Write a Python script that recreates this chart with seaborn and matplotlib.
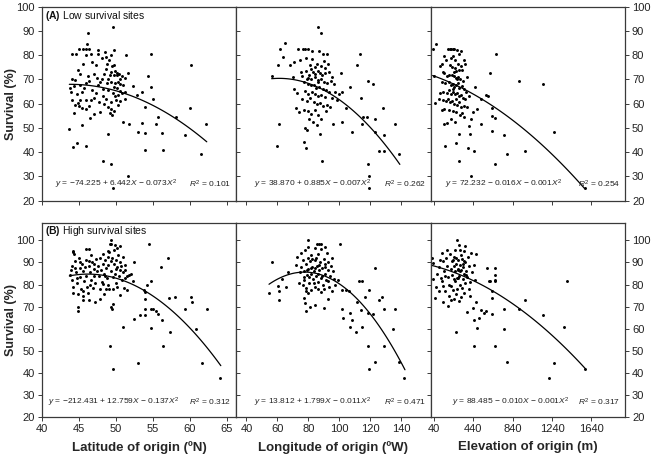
import numpy as np
import seaborn as sns
import matplotlib.pyplot as plt

# ---------------- values ----------------
# (A) low survival sites
lat_a = [43.6, 44.2, 44.7, 45.9, 45.4, 46.2, 48.2, 49.0, 49.3, 49.6, 49.6, 51.0, 51.6, 51.8, 51.4, 51.6,
         53.0, 53.6, 53.9, 53.9, 53.9, 54.7, 54.3, 54.8, 55.0, 55.4, 55.7, 56.4, 56.2, 58.1, 59.3, 60.0,
         60.1, 61.5, 62.2, 52.3, 52.8, 53.5,
         43.9, 43.8, 44.1, 44.3, 44.5, 44.0, 44.9, 45.2, 45.5, 44.6, 44.1, 45.0, 45.5, 45.9, 46.3, 46.1,
         46.6, 46.0, 46.8, 47.3, 47.0, 47.5, 45.4, 45.7, 46.0, 45.0, 45.4, 46.0, 46.4, 46.7, 47.1, 47.0,
         46.5, 44.3, 44.9, 44.7, 45.2, 45.9, 46.3, 45.1, 46.8, 47.3, 47.7, 44.4, 46.2, 47.6,
         47.6, 47.6, 48.1, 48.5, 48.7, 49.1, 49.5, 49.8, 48.7, 49.3, 49.9, 50.1, 48.4, 49.2, 49.7, 50.1,
         50.4, 50.8, 47.9, 48.8, 49.4, 49.9, 50.3, 50.6, 51.0, 48.3, 49.0, 49.7, 50.1, 50.5, 49.6, 49.9,
         50.3, 50.8, 51.2, 48.6, 49.4, 50.0, 48.9, 49.4, 49.8, 49.2, 49.5, 48.3, 48.1, 50.6, 51.2, 50.3,
         48.8, 49.4, 49.8, 48.4, 47.9, 49.0, 50.5, 51.3]
surv_lat_a = [49.4, 42.0, 43.9, 42.5, 51.2, 89.2, 36.2, 47.4, 35.1, 91.5, 25.2, 52.5, 30.2, 51.6, 79.9, 72.6,
              48.3, 52.1, 48.0, 40.9, 58.5, 80.3, 71.5, 66.9, 61.8, 51.6, 54.3, 40.9, 48.0, 54.7, 47.2, 58.3,
              76.1, 39.4, 51.6, 67.2, 63.5, 64.8,
              64.8, 66.6, 61.4, 67.2, 69.9, 70.2, 73.7, 72.2, 76.5, 80.3, 80.4, 82.5, 82.5, 82.5, 82.5, 84.7,
              80.3, 80.1, 77.0, 75.8, 72.2, 70.4, 64.8, 66.6, 61.3, 58.9, 58.2, 58.0, 58.9, 61.5, 62.4, 55.9,
              53.9, 56.0, 60.3, 63.9, 61.5, 68.5, 69.5, 67.8, 65.6, 64.4, 60.5, 59.5, 71.4, 67.5,
              82.0, 80.5, 79.0, 81.2, 79.2, 77.8, 75.3, 75.9, 74.2, 73.1, 73.3, 72.6, 72.1, 71.8, 71.6, 71.6,
              72.1, 71.2, 69.0, 68.4, 68.9, 68.4, 68.9, 68.0, 67.6, 66.0, 65.5, 66.7, 66.3, 65.4, 64.4, 63.0,
              63.6, 64.2, 64.8, 61.8, 60.8, 61.4, 58.8, 58.0, 57.0, 56.0, 55.4, 63.3, 70.2, 61.2, 62.0, 59.5,
              76.5, 80.0, 82.0, 60.0, 56.5, 70.3, 70.0, 70.5]

lon_a = [86.5, 88.4, 65.2, 61.5, 63.4, 60.4, 56.3, 113.5, 111.2, 101.0, 118.3, 121.5, 113.8, 106.9, 102.0,
         104.5, 98.5, 95.7, 102.0, 108.2, 115.0, 117.8, 123.0, 128.0, 114.4, 123.0, 128.6, 125.8, 128.6,
         135.9, 138.5, 118.3, 119.4, 119.0, 61.3, 60.0, 77.6, 78.9, 77.5, 78.5, 87.5, 88.6, 72.0, 97.0, 99.5,
         73.5, 76.5, 78.0, 79.5, 82.5, 87.0, 89.5, 92.0, 68.0, 71.0, 74.5, 78.8, 82.5, 85.5, 88.0, 90.5,
         75.5, 78.5, 80.5, 81.5, 83.0, 84.5, 86.0, 87.5, 89.0, 91.0, 93.5, 80.0, 82.0, 84.0, 86.5, 88.5,
         90.0, 92.0, 94.5, 77.0, 79.5, 81.5, 83.5, 85.0, 87.0, 89.5, 91.5, 93.5, 78.0, 80.0, 82.5, 84.5,
         86.5, 88.5, 90.5, 95.5, 76.0, 79.0, 81.0, 83.5, 85.5, 87.5, 89.5, 92.0, 74.0, 77.0, 80.0, 82.0,
         84.5, 86.5, 88.0, 91.5, 94.0, 80.5, 83.0, 85.5, 86.0, 84.0, 81.0, 79.0, 76.0, 70.5, 73.0, 90.0,
         93.0, 95.0, 96.5, 70.0]
surv_lon_a = [91.5, 89.2, 84.8, 82.5, 79.2, 76.1, 71.4, 80.3, 75.8, 72.6, 69.2, 68.1, 62.5, 66.9, 64.8,
              58.4, 61.7, 51.8, 52.5, 48.3, 54.7, 54.7, 53.8, 58.1, 51.6, 48.2, 47.2, 40.6, 40.6,
              51.6, 39.3, 35.0, 30.2, 25.2, 51.6, 42.5, 50.1, 49.1, 44.1, 41.9, 47.5, 36.5, 58.4, 65.0, 63.8,
              82.5, 82.5, 82.5, 82.5, 81.8, 81.8, 80.3, 80.3, 75.8, 77.0, 77.8, 78.6, 78.2, 76.4, 75.5, 74.8,
              73.0, 73.5, 72.0, 74.2, 73.2, 72.1, 73.5, 72.8, 72.0, 72.8, 72.9, 70.5, 70.0, 70.8, 69.6, 70.3,
              69.0, 68.4, 69.5, 68.8, 68.2, 67.5, 67.8, 66.5, 66.9, 66.2, 65.5, 64.8, 65.2, 64.0, 64.6, 63.8,
              63.0, 63.7, 62.6, 62.5, 61.8, 61.0, 62.2, 60.7, 59.8, 60.2, 58.9, 59.5, 56.5, 57.5, 57.0, 55.8,
              57.3, 55.5, 53.8, 56.8, 58.8, 53.5, 52.5, 51.2, 69.0, 75.0, 76.0, 70.0, 71.5, 66.0, 64.5, 77.5,
              76.5, 71.0, 68.0, 71.0]

elev_a = [30, 67, 47, 57, 141, 159, 268, 296, 296, 391, 415, 449, 404, 397, 517, 568, 595, 609, 670, 629,
          629, 660, 629, 663, 755, 782, 901, 963, 1146, 1265, 1572, 480, 520, 460, 440, 420,
          100, 120, 130, 150, 170, 190, 205, 220, 235, 250, 275, 300, 320, 345, 360, 240, 260, 285, 210,
          230, 255, 270, 300, 330, 380, 150, 180, 200, 225, 245, 265, 290, 310, 340, 120, 160, 195, 215,
          235, 250, 270, 285, 300, 325, 350, 370, 105, 140, 175, 200, 220, 240, 260, 280, 295, 315, 335,
          360, 395, 90, 130, 165, 190, 210, 230, 250, 275, 300, 320, 345, 380, 150, 200, 240, 270, 310,
          330, 220, 260, 180, 350, 125, 215, 245, 280, 320, 270, 235]
surv_elev_a = [82.4, 84.7, 71.3, 60.3, 51.6, 42.7, 43.9, 47.5, 36.5, 41.9, 30.2, 40.5, 47.7, 50.8, 51.6,
               63.6, 63.2, 72.6, 80.3, 58.3, 54.9, 53.9, 48.7, 35.2, 47.2, 39.3, 69.2, 40.6, 68.1, 48.2,
               25.2, 58.0, 62.0, 67.0, 56.5, 53.5,
               75.5, 76.5, 73.0, 79.5, 78.0, 82.5, 82.5, 82.5, 82.5, 82.5, 82.0, 80.5, 81.5, 78.0, 76.5,
               79.5, 78.0, 76.5, 76.0, 75.0, 74.5, 73.5, 74.0, 73.8, 71.0, 72.5, 71.5, 72.0, 71.8, 71.2,
               70.5, 71.0, 70.2, 69.5, 69.0, 68.5, 68.8, 67.5, 68.2, 67.0, 67.8, 68.5, 66.5, 67.2, 66.0,
               65.0, 64.5, 65.0, 64.2, 65.5, 64.0, 64.8, 63.8, 64.5, 63.0, 63.5, 62.5, 62.0, 63.0, 62.0,
               61.5, 61.0, 62.0, 60.5, 61.2, 60.0, 59.5, 60.5, 58.5, 59.0, 58.5, 58.0, 57.5, 57.0, 56.5,
               55.5, 56.0, 53.5, 52.5, 52.0, 54.5, 57.5, 79.0, 73.0, 70.0, 75.5, 62.0, 66.0]

# (B) high survival sites
lat_b = [49.2, 49.6, 51.0, 53.0, 52.5, 53.3, 53.9, 53.9, 53.9, 53.8, 54.0, 54.2, 54.7, 54.5, 54.7, 55.0,
         55.4, 55.7, 54.8, 56.2, 56.1, 56.4, 57.0, 57.2, 57.3, 58.0, 59.3, 60.1, 60.3, 60.9, 61.6, 62.3,
         64.1, 49.4, 49.5, 51.5, 52.3, 52.0, 52.5, 44.9, 44.9, 45.5, 46.3, 47.2,
         43.8, 43.9, 44.1, 44.2, 44.2, 44.3, 44.0, 44.2, 44.2, 44.5, 44.6, 44.7, 44.9, 45.0, 45.1, 45.2,
         45.3, 45.5, 45.4, 45.6, 45.7, 45.9, 46.3, 45.9, 46.0, 46.1, 46.2, 46.4, 46.5, 46.6, 46.7, 46.8,
         46.9, 47.0, 47.1, 47.2, 47.3, 47.4, 46.3, 45.8, 45.1, 44.7, 46.5, 47.0, 45.6, 44.5,
         47.6, 47.7, 47.8, 47.9, 48.0, 48.1, 48.2, 48.2, 48.3, 48.4, 48.5, 48.6, 48.7, 48.8, 48.9, 49.0,
         49.1, 49.1, 49.2, 49.3, 49.4, 49.4, 49.5, 49.6, 49.6, 49.7, 49.8, 49.9, 49.9, 50.0, 50.0, 50.1,
         50.2, 50.3, 50.4, 50.5, 50.5, 50.6, 50.7, 50.8, 50.9, 51.0, 51.2, 51.2, 51.3, 51.5, 51.8, 49.0,
         48.5, 50.2, 50.6, 49.3, 48.9, 50.0, 49.6, 47.9, 48.4, 51.1]
surv_lat_b = [52.2, 41.8, 60.7, 44.6, 64.6, 66.4, 66.4, 69.1, 73.4, 77.6, 76.5, 79.6, 81.4, 98.2, 69.1, 68.8,
              68.0, 66.7, 60.5, 64.0, 87.9, 52.2, 92.0, 73.7, 58.4, 74.4, 69.1, 74.4, 72.2, 59.8, 44.6, 68.8,
              37.8, 70.0, 69.0, 77.5, 81.5, 85.0, 90.2, 70.0, 67.8, 73.1, 73.1, 72.3,
              84.5, 86.5, 88.5, 95.3, 94.6, 93.8, 82.0, 78.7, 76.1, 90.5, 85.5, 80.5, 75.8, 92.0, 87.5, 83.5,
              78.0, 74.9, 89.5, 86.0, 81.5, 96.2, 96.2, 91.0, 84.0, 79.0, 76.0, 88.5, 85.5, 93.2, 82.0, 90.0,
              78.5, 87.0, 84.0, 80.5, 91.5, 86.0, 90.5, 88.0, 90.0, 83.0, 80.0, 89.5, 77.0, 87.5,
              88.5, 84.0, 92.0, 73.4, 86.5, 81.0, 80.3, 89.5, 94.0, 85.0, 91.0, 78.1, 87.5, 83.0, 95.0, 89.0,
              78.1, 94.9, 98.3, 100.0, 98.3, 86.0, 92.0, 83.5, 71.1, 89.5, 95.5, 97.8, 85.0, 91.0, 80.5, 79.1,
              88.0, 93.5, 84.0, 75.3, 90.0, 86.5, 88.2, 82.0, 92.5, 85.5, 86.7, 82.9, 89.0, 84.0, 84.4, 92.5,
              84.0, 96.5, 97.5, 90.5, 80.0, 87.0, 78.0, 78.0, 75.5, 78.5]

lon_b = [54.6, 56.5, 60.4, 60.8, 61.0, 62.7, 65.3, 66.8, 78.2, 80.8, 80.1, 85.5, 87.0, 88.5, 100.7, 90.4,
         92.6, 97.5, 99.2, 101.8, 104.4, 101.8, 102.7, 106.0, 106.9, 106.9, 108.2, 110.8, 111.2, 112.5,
         114.5, 114.0, 114.5, 116.6, 118.3, 118.3, 119.0, 119.4, 121.5, 122.8, 123.3, 125.8, 127.6, 128.6,
         128.6, 135.9, 134.8, 138.7, 141.9, 78.0, 78.6, 84.0, 77.0,
         72.0, 73.0, 74.5, 75.0, 75.5, 76.5, 77.0, 77.5, 78.0, 78.5, 79.0, 79.5, 80.0, 80.5, 81.0, 81.5,
         82.0, 82.5, 83.0, 83.5, 84.0, 84.5, 85.0, 85.5, 86.0, 86.5, 87.0, 87.5, 88.0, 88.5, 89.0, 89.5,
         90.0, 90.5, 91.0, 91.5, 92.0, 92.5, 93.0, 93.5, 94.0, 94.5, 95.0, 96.0, 78.5, 80.0, 82.0, 86.0,
         88.0, 79.5, 84.5, 91.0, 76.5, 84.0, 86.5, 80.5, 82.5, 85.0, 89.0, 90.5, 87.0, 81.5, 79.0, 83.5,
         92.5, 77.5, 96.5, 74.0, 90.0, 95.5]
surv_lon_b = [76.1, 90.2, 79.4, 76.9, 73.1, 82.5, 79.1, 85.6, 67.8, 70.0, 100.3, 98.5, 98.5, 98.5, 98.5, 69.6,
              73.5, 79.9, 82.1, 77.6, 77.6, 69.0, 64.8, 77.2, 67.0, 60.7, 64.0, 58.7, 72.3, 81.7,
              81.7, 68.6, 60.7, 74.3, 67.0, 52.2, 41.9, 77.6, 66.7, 44.8, 87.7, 73.1, 74.3, 69.0,
              52.2, 68.8, 59.9, 44.8, 37.8, 71.6, 76.9, 70.8, 74.0,
              89.0, 92.5, 85.5, 88.0, 94.5, 91.0, 86.0, 82.0, 95.5, 89.5, 84.5, 92.0, 87.0, 80.5, 90.5, 85.0,
              93.5, 88.0, 82.5, 86.0, 91.0, 79.0, 84.0, 88.5, 94.0, 81.0, 86.5, 90.0, 83.0, 96.0, 87.5, 80.0,
              91.5, 85.0, 88.0, 82.0, 94.5, 86.5, 90.0, 79.0, 84.0, 88.5, 92.0, 86.0, 78.5, 76.0, 77.5, 78.0,
              76.5, 97.0, 96.5, 97.0, 80.0, 87.5, 85.0, 83.5, 91.5, 92.0, 84.0, 89.5, 89.0, 87.5, 86.5, 80.5,
              81.5, 83.5, 82.5, 80.5, 78.0, 77.0]

elev_b = [23, 33, 33, 64, 57, 98, 268, 449, 476, 449, 500, 517, 551, 575, 585, 602, 609, 629, 636, 629,
          663, 663, 663, 663, 663, 755, 755, 782, 901, 969, 1153, 1214, 1265, 1361, 1391, 1579, 440, 470,
          410, 380, 300, 190, 140,
          70, 90, 110, 120, 130, 140, 150, 160, 170, 180, 190, 200, 210, 215, 225, 230, 240, 245, 250, 255,
          260, 265, 270, 275, 278, 285, 290, 296, 300, 305, 310, 315, 320, 325, 330, 335, 340, 345, 350,
          355, 360, 363, 370, 380, 390, 400, 410, 420, 430, 445, 460, 470, 100, 180, 200, 220, 250, 280,
          320, 350, 120, 160, 235, 260, 290, 310, 335, 285, 245, 365, 270, 215, 305, 350, 395]
surv_elev_b = [92.0, 89.7, 82.5, 79.1, 73.8, 76.9, 58.5, 64.0, 60.2, 52.2, 64.8, 68.5, 67.0, 68.2, 87.4, 81.4,
               81.8, 66.7, 76.9, 73.8, 87.4, 84.4, 82.1, 81.4, 52.2, 68.8, 59.8, 44.8, 69.1, 73.1, 66.3,
               37.8, 44.6, 60.7, 81.4, 41.9, 69.5, 72.0, 75.0, 67.5, 72.5, 70.5, 72.0,
               85.0, 88.0, 83.0, 94.5, 79.5, 90.5, 86.0, 77.0, 92.0, 88.5, 83.5, 80.0, 94.0, 87.0, 90.5, 84.5,
               77.5, 88.5, 92.5, 81.5, 86.0, 89.5, 75.5, 83.0, 100.0, 91.0, 87.0, 98.0, 84.0, 80.0, 89.0,
               93.5, 86.5, 78.5, 91.5, 82.5, 88.0, 85.0, 95.0, 80.5, 90.0, 97.6, 86.0, 83.5, 92.5, 88.5,
               81.0, 94.5, 85.5, 89.0, 82.0, 94.0, 91.0, 95.5, 75.0, 73.0, 73.5, 78.0, 74.5, 76.0, 81.5,
               84.0, 91.0, 95.5, 83.0, 86.0, 89.5, 86.5, 82.5, 84.5, 92.0, 79.5, 95.5, 90.5, 78.0]

# points
fit_lat_a_x = [43.7, 48, 52, 56, 60, 62.3]
fit_lat_a_y = [67.9, 66.8, 63.4, 57.7, 49.5, 44.5]
fit_lon_a_x = [56.3, 72, 86.5, 95.7, 106.5, 117.2, 125.8, 139.1]
fit_lon_a_y = [69.6, 70.0, 67.6, 64.2, 58.7, 51.2, 43.6, 36.8]
fit_elev_a_x = [30, 227, 449, 670, 908, 1180, 1572]
fit_elev_a_y = [71.5, 68.3, 63.9, 58.4, 51.2, 40.9, 25.2]
fit_lat_b_x = [43.7, 47, 50, 53, 56, 60, 64.2]
fit_lat_b_y = [83.8, 84.7, 83.0, 79.0, 72.5, 59.9, 43.5]
fit_lon_b_x = [54.6, 65.8, 79.3, 91.5, 102.2, 115.1, 128, 142.4]
fit_lon_b_y = [79.4, 84.4, 86.2, 84.4, 79.9, 70.0, 56.4, 43.1]
fit_elev_b_x = [23, 227, 449, 670, 908, 1180, 1579]
fit_elev_b_y = [88.2, 85.9, 82.1, 76.9, 69.3, 57.9, 42.5]

equations = [
    [r'$y$ = −74.225 + 6.442$X$ − 0.073$X^2$', r'$y$ = 38.870 + 0.885$X$ − 0.007$X^2$',
     r'$y$ = 72.232 − 0.016$X$ − 0.001$X^2$'],
    [r'$y$ = −212.431 + 12.759$X$ − 0.137$X^2$', r'$y$ = 13.812 + 1.799$X$ − 0.011$X^2$',
     r'$y$ = 88.485 − 0.010$X$ − 0.001$X^2$'],
]
r_squared = [['0.101', '0.262', '0.254'], ['0.312', '0.471', '0.317']]
row_titles = [r'$\mathbf{(A)}$ Low survival sites', r'$\mathbf{(B)}$ High survival sites']
x_labels = ['Latitude of origin (ºN)', 'Longitude of origin (ºW)', 'Elevation of origin (m)']
x_ticks = [[40, 45, 50, 55, 60, 65], [40, 60, 80, 100, 120, 140], [40, 440, 840, 1240, 1640]]
x_lims = [(40, 66.3), (33.5, 159), (10, 1980)]

# ---------------- plot ----------------
sns.set_style('ticks')
plt.rcParams['font.family'] = ['Liberation Sans', 'DejaVu Sans']
plt.rcParams['mathtext.fontset'] = 'custom'
plt.rcParams['mathtext.rm'] = 'Liberation Sans'
plt.rcParams['mathtext.it'] = 'Liberation Sans:italic'
plt.rcParams['mathtext.bf'] = 'Liberation Sans:bold'

points = [[(lat_a, surv_lat_a), (lon_a, surv_lon_a), (elev_a, surv_elev_a)],
          [(lat_b, surv_lat_b), (lon_b, surv_lon_b), (elev_b, surv_elev_b)]]
fits = [[(fit_lat_a_x, fit_lat_a_y), (fit_lon_a_x, fit_lon_a_y), (fit_elev_a_x, fit_elev_a_y)],
        [(fit_lat_b_x, fit_lat_b_y), (fit_lon_b_x, fit_lon_b_y), (fit_elev_b_x, fit_elev_b_y)]]
eq_left = [[0.067, 0.092, 0.075], [0.032, 0.092, 0.108]]
eq_y = [0.087, 0.074]
y_tops = [100, 108]

fig, axes = plt.subplots(2, 3, figsize=(6.52, 4.55), dpi=100)
fig.subplots_adjust(left=0.0644, right=0.9586, top=0.9857, bottom=0.0835, wspace=0, hspace=0.113)

frame = '#3a3a3a'
for r in range(2):
    for c in range(3):
        ax = axes[r, c]
        xs, ys = points[r][c]
        sns.scatterplot(x=xs, y=ys, ax=ax, color='black', s=4.5, linewidth=0)
        fx, fy = fits[r][c]
        sns.regplot(x=fx, y=fy, order=2, scatter=False, ci=None, truncate=True, ax=ax,
                    line_kws=dict(color='black', lw=0.9))
        ax.set_xlim(*x_lims[c])
        ax.set_ylim(20, y_tops[r])
        ax.set_xticks(x_ticks[c])
        ax.set_yticks(range(20, 101, 10))
        ax.set_xlabel('')
        ax.set_ylabel('')
        for sp in ax.spines.values():
            sp.set_color(frame)
            sp.set_linewidth(0.9)
        ax.tick_params(axis='both', length=3, width=0.7, color=frame, labelsize=8,
                       labelcolor='#222222', pad=2)
        ax.tick_params(axis='x', direction='out', labelbottom=(r == 1))
        if c == 0:
            ax.tick_params(axis='y', direction='out', left=True, right=False, labelleft=True)
            ax.set_ylabel('Survival (%)', fontsize=9, fontweight='bold')
            ax.yaxis.set_label_coords(-0.13, 0.5)
        elif c == 1:
            ax.tick_params(axis='y', direction='in', left=True, right=True, labelleft=False)
        else:
            ax.tick_params(axis='y', direction='out', left=False, right=True,
                           labelleft=False, labelright=True)
        if r == 1:
            ax.set_xlabel(x_labels[c], fontsize=9.5, fontweight='bold')
            ax.xaxis.set_label_coords(0.5, -0.125)
        ax.text(eq_left[r][c], eq_y[r], equations[r][c], transform=ax.transAxes,
                fontsize=6, ha='left', va='center', color='#222222')
        ax.text(0.975, eq_y[r], r'$R^2$ = ' + r_squared[r][c], transform=ax.transAxes,
                fontsize=6, ha='right', va='center', color='#222222')
    axes[r, 0].text(0.017, 0.952 if r == 0 else 0.958, row_titles[r], transform=axes[r, 0].transAxes,
                    fontsize=7.5, ha='left', va='center', color='#111111')

fig.savefig('out.png', dpi=100)
